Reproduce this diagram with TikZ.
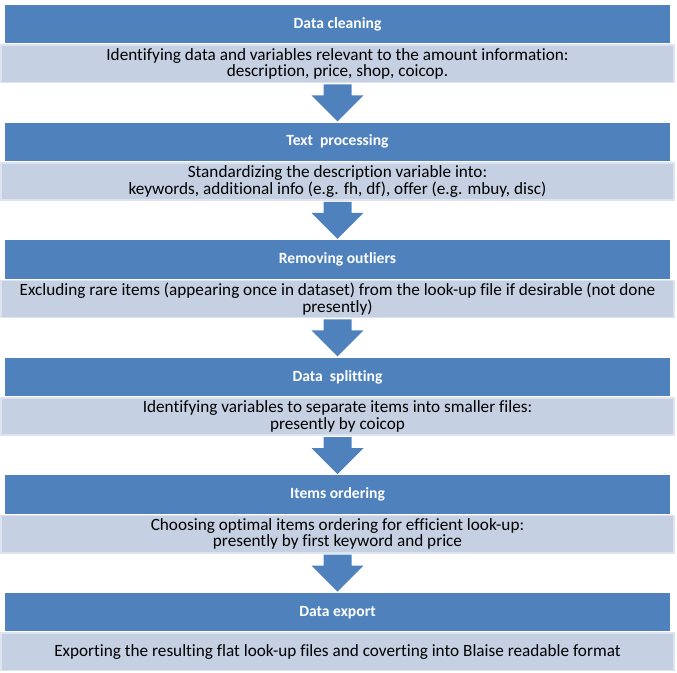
\documentclass[tikz,border=0pt]{standalone}
\usepackage{fontspec}
\setmainfont[Ligatures=NoCommon]{Carlito}
\usepackage{tikz}
\usetikzlibrary{calc}

\definecolor{hdrblue}{RGB}{79,129,189}
\definecolor{bodyblue}{RGB}{197,208,227}
\definecolor{bodyedge}{RGB}{222,228,239}

\begin{document}
\begin{tikzpicture}[x=0.75pt,y=-0.75pt,
    hdr/.style={fill=hdrblue,text=white,font=\fontsize{11.7}{13}\selectfont\bfseries,
        minimum width=498.75pt,minimum height=28.9pt,inner sep=0pt},
    bdy/.style={fill=bodyblue,draw=bodyedge,line width=1.2pt,align=center,
        font=\fontsize{12.9}{12.3}\selectfont,
        minimum width=504.5pt,minimum height=28pt,inner sep=0pt},
    blockfill/.style={fill=hdrblue}]
    \useasboundingbox (0,0) rectangle (677,673);

    % Data cleaning
    \node[hdr] (h1) at (337.5,24.2) {Data cleaning};
    \node[bdy,anchor=north] (b1) at ($(h1.south)+(0,0.6)$) {Identifying data and variables relevant to the amount information:\\ description, price, shop, coicop.};

    % Text processing
    \node[hdr] (h2) at (337.5,141.8) {Text\ \ processing};
    \node[bdy,anchor=north] (b2) at ($(h2.south)+(0,0.6)$) {Standardizing the description variable into:\\ keywords, additional info (e.g. fh, df), offer (e.g. mbuy, disc)};

    % Removing outliers
    \node[hdr] (h3) at (337.5,259.4) {Removing outliers};
    \node[bdy,anchor=north] (b3) at ($(h3.south)+(0,0.6)$) {Excluding rare items (appearing once in dataset) from the look-up file if desirable (not done\\ presently)};

    % Data splitting
    \node[hdr] (h4) at (337.5,377.0) {Data\ \ splitting};
    \node[bdy,anchor=north] (b4) at ($(h4.south)+(0,0.6)$) {Identifying variables to separate items into smaller files:\\ presently by coicop};

    % Items ordering
    \node[hdr] (h5) at (337.5,494.6) {Items ordering};
    \node[bdy,anchor=north] (b5) at ($(h5.south)+(0,0.6)$) {Choosing optimal items ordering for efficient look-up:\\ presently by first keyword and price};

    % Data export
    \node[hdr] (h6) at (337.5,612.2) {Data export};
    \node[bdy,anchor=north] (b6) at ($(h6.south)+(0,0.6)$) {Exporting the resulting flat look-up files and coverting into Blaise readable format};

    % Pfeile
    \fill[blockfill] ($(b1.south)+(-14,1)$) -- ($(b1.south)+(14,1)$) -- ($(b1.south)+(14,12)$) -- ($(b1.south)+(26,12)$) -- ($(h2.north)+(0,-1)$) -- ($(b1.south)+(-26,12)$) -- ($(b1.south)+(-14,12)$) -- cycle;
    \fill[blockfill] ($(b2.south)+(-14,1)$) -- ($(b2.south)+(14,1)$) -- ($(b2.south)+(14,12)$) -- ($(b2.south)+(26,12)$) -- ($(h3.north)+(0,-1)$) -- ($(b2.south)+(-26,12)$) -- ($(b2.south)+(-14,12)$) -- cycle;
    \fill[blockfill] ($(b3.south)+(-14,1)$) -- ($(b3.south)+(14,1)$) -- ($(b3.south)+(14,12)$) -- ($(b3.south)+(26,12)$) -- ($(h4.north)+(0,-1)$) -- ($(b3.south)+(-26,12)$) -- ($(b3.south)+(-14,12)$) -- cycle;
    \fill[blockfill] ($(b4.south)+(-14,1)$) -- ($(b4.south)+(14,1)$) -- ($(b4.south)+(14,12)$) -- ($(b4.south)+(26,12)$) -- ($(h5.north)+(0,-1)$) -- ($(b4.south)+(-26,12)$) -- ($(b4.south)+(-14,12)$) -- cycle;
    \fill[blockfill] ($(b5.south)+(-14,1)$) -- ($(b5.south)+(14,1)$) -- ($(b5.south)+(14,12)$) -- ($(b5.south)+(26,12)$) -- ($(h6.north)+(0,-1)$) -- ($(b5.south)+(-26,12)$) -- ($(b5.south)+(-14,12)$) -- cycle;
\end{tikzpicture}
\end{document}
